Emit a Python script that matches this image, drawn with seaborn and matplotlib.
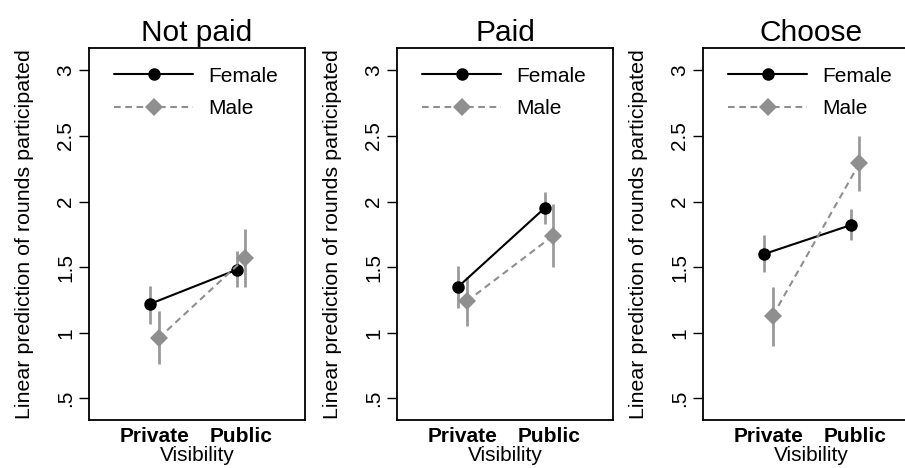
import pandas as pd
import matplotlib
matplotlib.use("Agg")
import matplotlib.pyplot as plt
import seaborn as sns

panels = ["Not paid", "Paid", "Choose"]
visibility = ["Private", "Public"]
genders = ["Female", "Male"]

# predicted rounds (Private, Public) per panel
female_pred = [[1.22, 1.48], [1.35, 1.95], [1.60, 1.82]]
male_pred = [[0.96, 1.57], [1.24, 1.74], [1.13, 2.29]]
# 95% CI bounds
female_lo = [[1.07, 1.345], [1.185, 1.83], [1.46, 1.705]]
female_hi = [[1.36, 1.625], [1.51, 2.07], [1.745, 1.945]]
male_lo = [[0.765, 1.35], [1.05, 1.50], [0.90, 2.08]]
male_hi = [[1.165, 1.79], [1.425, 1.98], [1.35, 2.50]]

yticks = [0.5, 1, 1.5, 2, 2.5, 3]
ytick_labels = [".5", "1", "1.5", "2", "2.5", "3"]

sns.set_theme(style="white")
plt.rcParams["font.family"] = ["Liberation Sans", "DejaVu Sans"]
for k in ["text.color", "axes.labelcolor", "xtick.color", "ytick.color"]:
    plt.rcParams[k] = "black"

fig = plt.figure(figsize=(9.05, 4.68), dpi=100)
lefts = [89, 397, 703]
offsets = {"Female": -0.05, "Male": 0.05}
colors = {"Female": "black", "Male": "#8f8f8f"}

for i, name in enumerate(panels):
    ax = fig.add_axes([lefts[i] / 905, 48 / 468, 216 / 905, 372 / 468])
    rows = []
    for g, pred, lo, hi in [("Female", female_pred, female_lo, female_hi),
                            ("Male", male_pred, male_lo, male_hi)]:
        for j, v in enumerate(visibility):
            rows.append({"gender": g, "vis": v, "x": j + offsets[g],
                         "pred": pred[i][j], "lo": lo[i][j], "hi": hi[i][j]})
    df = pd.DataFrame(rows)

    ax.vlines(df["x"], df["lo"], df["hi"], color="#9a9a9a", lw=2, zorder=1)
    sns.lineplot(data=df, x="x", y="pred", hue="gender", style="gender",
                 hue_order=genders, style_order=genders,
                 palette=colors, markers={"Female": "o", "Male": "D"},
                 dashes={"Female": "", "Male": (3.2, 2.2)},
                 markersize=9, markeredgewidth=0, lw=1.5, ax=ax, zorder=3)

    handles, labels = ax.get_legend_handles_labels()
    leg = ax.legend(handles, labels, loc="upper left", frameon=False, fontsize=15,
                    handlelength=3.8, handletextpad=0.7, labelspacing=0.65,
                    borderaxespad=0.5, bbox_to_anchor=(0.03, 1.0))
    for t in leg.get_texts():
        t.set_color("black")

    ax.set_xlim(-0.757, 1.74)
    ax.set_ylim(0.335, 3.17)
    ax.set_xticks([0, 1])
    ax.set_xticklabels(visibility, fontsize=15, fontweight="bold")
    ax.set_yticks(yticks)
    ax.set_yticklabels(ytick_labels, fontsize=15, rotation=90, va="center")
    ax.tick_params(axis="y", length=7, width=1, color="black", left=True, pad=3)
    ax.tick_params(axis="x", length=0, pad=5)
    ax.set_xlabel("Visibility", fontsize=15, labelpad=0)
    ax.set_ylabel("Linear prediction of rounds participated", fontsize=15.4, labelpad=16)
    ax.set_title(name, fontsize=21.5, pad=5)
    for s in ax.spines.values():
        s.set_color("black")
        s.set_linewidth(1.3)

fig.savefig("out.png", dpi=100)
